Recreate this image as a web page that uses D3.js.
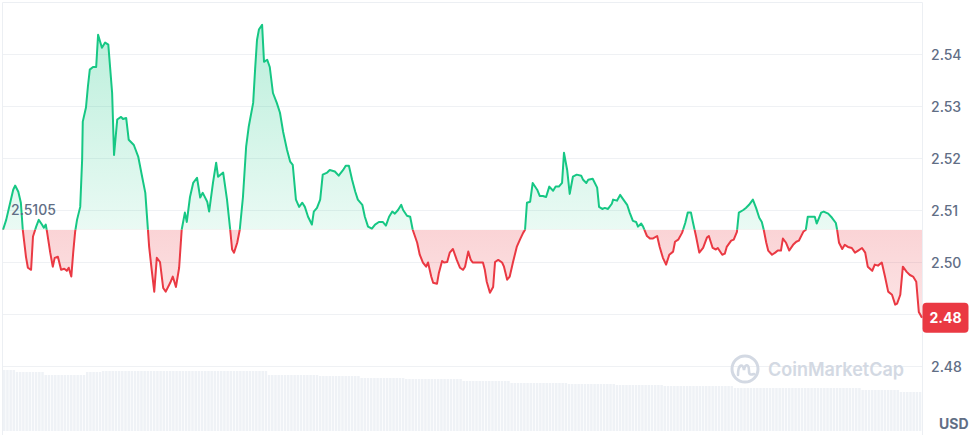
<!DOCTYPE html>
<html><head><meta charset="utf-8">
<script src="https://cdn.jsdelivr.net/npm/d3@7"></script>
<style>body{margin:0;background:#fff;} svg{display:block;font-family:Inter,"Noto Sans",sans-serif;}</style>
</head><body><svg id="c" width="975" height="435"></svg>
<script>
// ---- data ----
const minutes = [0,5,16,19,24,28,31,36,39,44,47,52,56,61,64,67,69,74,78,81,86,91,96,100,103,107,110,113,116,121,124,125,130,133,136,141,146,149,155,160,165,171,174,179,185,188,193,197,205,212,218,223,226,229,233,237,241,246,251,255,262,266,271,276,280,285,288,293,298,304,309,313,320,323,329,334,337,345,351,356,359,362,367,371,376,381,385,392,395,398,401,406,409,414,418,423,429,434,439,445,450,454,459,464,469,473,478,484,487,492,497,501,508,512,520,526,533,537,542,547,552,556,563,567,572,578,583,589,595,600,605,610,614,619,624,627,633,638,642,649,653,658,663,666,671,674,680,683,688,691,696,700,705,711,716,721,724,729,733,736,744,752,755,758,763,768,771,776,782,785,790,794,799,805,810,815,818,821,826,830,837,841,846,851,856,862,866,871,876,879,884,888,893,899,906,909,914,917,924,931,934,939,943,948,954,956,962,967,971,978,982,987,992,995,1000,1003,1009,1014,1018,1025,1029,1034,1039,1044,1050,1053,1058,1064,1069,1073,1078,1081,1086,1091,1097,1103,1106,1112,1117,1120,1127,1131,1134,1141,1145,1150,1153,1160,1164,1169,1175,1180,1185,1189,1192,1196,1199,1205,1210,1214,1219,1222,1227,1232,1238,1243,1247,1254,1258,1261,1268,1272,1275,1282,1286,1293,1299,1305,1307,1310,1315,1319,1324,1330,1335,1340,1346,1351,1355,1362,1366,1371,1377,1382,1387,1393,1398,1401,1406,1410,1416,1421,1426,1431,1435,1440];
const prices = [2.5105,2.5124,2.5182,2.5190,2.5178,2.5157,2.5105,2.5053,2.5032,2.5028,2.5092,2.5111,2.5124,2.5115,2.5109,2.5115,2.5101,2.5061,2.5034,2.5051,2.5053,2.5028,2.5030,2.5026,2.5032,2.5015,2.5061,2.5101,2.5124,2.5149,2.5240,2.5313,2.5340,2.5380,2.5413,2.5418,2.5418,2.5480,2.5455,2.5465,2.5461,2.5368,2.5249,2.5317,2.5322,2.5318,2.5320,2.5278,2.5268,2.5245,2.5207,2.5176,2.5124,2.5072,2.5028,2.4986,2.5051,2.5043,2.4993,2.4986,2.5003,2.5015,2.4995,2.5032,2.5105,2.5138,2.5120,2.5168,2.5195,2.5205,2.5167,2.5176,2.5159,2.5140,2.5195,2.5234,2.5207,2.5215,2.5163,2.5105,2.5067,2.5061,2.5080,2.5105,2.5168,2.5265,2.5303,2.5349,2.5413,2.5470,2.5490,2.5499,2.5428,2.5432,2.5418,2.5368,2.5349,2.5330,2.5293,2.5259,2.5236,2.5230,2.5163,2.5149,2.5157,2.5149,2.5130,2.5115,2.5140,2.5147,2.5163,2.5211,2.5215,2.5220,2.5217,2.5209,2.5220,2.5228,2.5228,2.5201,2.5178,2.5163,2.5153,2.5130,2.5111,2.5107,2.5115,2.5120,2.5120,2.5113,2.5130,2.5140,2.5136,2.5143,2.5153,2.5143,2.5132,2.5130,2.5105,2.5080,2.5057,2.5042,2.5034,2.5042,2.5015,2.5003,2.5001,2.5022,2.5045,2.5042,2.5043,2.5061,2.5068,2.5047,2.5032,2.5028,2.5034,2.5063,2.5047,2.5042,2.5042,2.5042,2.5028,2.5005,2.4984,2.4995,2.5043,2.5047,2.5042,2.5034,2.5009,2.5015,2.5042,2.5072,2.5086,2.5099,2.5105,2.5157,2.5159,2.5195,2.5182,2.5170,2.5170,2.5168,2.5188,2.5180,2.5188,2.5188,2.5195,2.5253,2.5220,2.5174,2.5207,2.5211,2.5209,2.5201,2.5195,2.5201,2.5203,2.5186,2.5149,2.5145,2.5147,2.5145,2.5155,2.5163,2.5161,2.5172,2.5165,2.5153,2.5138,2.5122,2.5120,2.5111,2.5117,2.5111,2.5093,2.5088,2.5088,2.5093,2.5072,2.5051,2.5038,2.5057,2.5063,2.5082,2.5086,2.5099,2.5118,2.5138,2.5138,2.5120,2.5092,2.5061,2.5070,2.5090,2.5093,2.5070,2.5067,2.5070,2.5057,2.5059,2.5072,2.5084,2.5086,2.5101,2.5138,2.5143,2.5147,2.5153,2.5163,2.5147,2.5128,2.5120,2.5105,2.5080,2.5065,2.5057,2.5061,2.5065,2.5065,2.5088,2.5080,2.5065,2.5076,2.5082,2.5084,2.5101,2.5105,2.5130,2.5130,2.5130,2.5117,2.5138,2.5140,2.5136,2.5128,2.5118,2.5105,2.5080,2.5068,2.5076,2.5072,2.5070,2.5061,2.5065,2.5070,2.5061,2.5034,2.5026,2.5038,2.5036,2.5042,2.5015,2.4986,2.4980,2.4961,2.4963,2.4980,2.5034,2.5024,2.5018,2.5015,2.5005,2.4947,2.4936];
// volume per 5-minute bar (millions)
const volumes = [
61,61,61,61,59,59,59,59,59,59,59,59,59,56,56,56,56,56,56,56,56,56,56,56,
56,56,59,59,59,59,59,60,60,60,60,60,60,60,60,60,60,60,60,60,60,60,60,60,
60,60,60,60,60,60,60,60,60,60,60,60,60,60,60,60,60,60,60,60,60,60,60,60,
60,60,60,60,60,60,60,60,60,60,60,56,56,56,56,56,56,56,56,56,56,56,56,56,
56,56,56,55,55,55,55,55,55,55,55,55,55,55,55,55,53,53,53,53,53,53,53,53,
53,53,53,53,53,53,52,52,52,52,52,52,52,52,52,52,52,52,52,52,52,52,52,52,
50,50,50,50,50,50,50,50,50,50,50,50,50,50,50,48,48,48,48,48,48,48,48,48,
48,48,48,48,48,48,48,48,48,47,47,47,47,47,47,47,47,47,47,47,47,47,47,47,
46,46,46,46,46,46,46,46,46,46,46,46,46,46,46,45,45,45,45,45,45,45,45,45,
45,45,45,45,45,45,45,45,45,45,45,45,45,43,43,43,43,43,43,43,43,43,43,43,
43,43,43,43,43,43,43,43,43,43,43,43,43,43,43,43,43,43,43,43,43,43,43,43,
43,43,43,43,43,41,41,41,41,41,41,41,41,41,41,41,41,39,39,39,39,39,39,39];
const tickValues = [2.5443,2.5343,2.5243,2.5143,2.5043,2.4943,2.4843];
const tickLabels = ["2.54","2.53","2.52","2.51","2.50","2.49","2.48"];
const openPrice = 2.5105;
const openLabel = "2.5105";
const lastLabel = "2.48";
const currency = "USD";
const brand = "CoinMarketCap";

// ---- drawing ----
const W = 975, H = 435;
const svg = d3.select("#c");
const x = d3.scaleLinear().domain([0, 1440]).range([3, 922]);
const y = d3.scaleLinear().domain([2.4843, 2.5443]).range([366, 54]);
const yv = d3.scaleLinear().domain([0, 80]).range([431, 351]);
const data = d3.zip(minutes, prices).map(([m, p]) => ({m, p}));
const GREEN = "#16c784", RED = "#ea3943", TXT = "#616e85";

const defs = svg.append("defs");
const base = y(openPrice);
const gg = defs.append("linearGradient").attr("id","gG").attr("gradientUnits","userSpaceOnUse")
  .attr("x1",0).attr("x2",0).attr("y1",20).attr("y2",base);
gg.append("stop").attr("offset",0).attr("stop-color",GREEN).attr("stop-opacity",0.3);
gg.append("stop").attr("offset",1).attr("stop-color",GREEN).attr("stop-opacity",0.09);
const gr = defs.append("linearGradient").attr("id","gR").attr("gradientUnits","userSpaceOnUse")
  .attr("x1",0).attr("x2",0).attr("y1",base).attr("y2",330);
gr.append("stop").attr("offset",0).attr("stop-color",RED).attr("stop-opacity",0.22);
gr.append("stop").attr("offset",1).attr("stop-color",RED).attr("stop-opacity",0.12);
defs.append("clipPath").attr("id","cA").append("rect").attr("x",0).attr("y",0).attr("width",W).attr("height",base);
defs.append("clipPath").attr("id","cB").append("rect").attr("x",0).attr("y",base).attr("width",W).attr("height",H-base);

// volume bars
const step = x(5) - x(0);
svg.append("g").selectAll("rect").data(volumes).join("rect")
  .attr("x", (d,i) => x(i*5))
  .attr("width", step - 0.7)
  .attr("y", d => yv(d))
  .attr("height", d => yv(0) - yv(d))
  .attr("fill", "#eff2f6");

// frame
svg.append("path").attr("d","M2.5,435V2.5H922.5V435").attr("fill","none").attr("stroke","#eceff3").attr("stroke-width",1);

// gridlines via axis
const grid = svg.append("g").attr("transform","translate(3,0)")
  .call(d3.axisRight(y).tickValues(tickValues).tickSize(919).tickFormat(""));
grid.select(".domain").remove();
grid.selectAll("line").attr("stroke","#eff1f4");

// areas
const area = d3.area().x(d => x(d.m)).y0(base).y1(d => y(d.p));
svg.append("path").datum(data).attr("d", area).attr("fill","url(#gG)").attr("clip-path","url(#cA)");
svg.append("path").datum(data).attr("d", area).attr("fill","url(#gR)").attr("clip-path","url(#cB)");

// lines
const line = d3.line().x(d => x(d.m)).y(d => y(d.p));
svg.append("path").datum(data).attr("d", line).attr("fill","none").attr("stroke",GREEN)
  .attr("stroke-width",2).attr("stroke-linejoin","round").attr("clip-path","url(#cA)");
svg.append("path").datum(data).attr("d", line).attr("fill","none").attr("stroke",RED)
  .attr("stroke-width",2).attr("stroke-linejoin","round").attr("clip-path","url(#cB)");

// last price position (the label box hides any axis label beneath it)
const last = data[data.length-1];
const ly = y(last.p);

// right axis labels
const ax = svg.append("g").attr("transform","translate(922,0)")
  .call(d3.axisRight(y).tickValues(tickValues).tickSize(0).tickPadding(9)
    .tickFormat((d,i) => tickLabels[i]));
ax.select(".domain").remove();
ax.selectAll(".tick").filter(d => Math.abs(y(d) - ly) < 20).remove();
ax.selectAll("text").attr("fill",TXT).attr("font-size",14).attr("font-weight",500)
  .attr("font-family","Inter, sans-serif").attr("dy","0.36em");

// open label
svg.append("text").attr("x",11).attr("y",y(openPrice)-15).text(openLabel)
  .attr("fill",TXT).attr("font-size",14).attr("font-weight",500);

// last price label
svg.append("rect").attr("x",922.5).attr("y",ly-15).attr("width",46).attr("height",30).attr("rx",4).attr("fill",RED);
svg.append("text").attr("x",945.5).attr("y",ly).attr("dy","0.36em").attr("text-anchor","middle")
  .attr("fill","#fff").attr("font-size",14).attr("font-weight",700).text(lastLabel);

// currency
svg.append("text").attr("x",939).attr("y",429).text(currency)
  .attr("fill",TXT).attr("font-size",14).attr("font-weight",700);

// watermark
const wm = svg.append("g").attr("transform","translate(745,369)");
wm.append("circle").attr("r",13).attr("fill","none").attr("stroke","#d3d9e3").attr("stroke-width",3);
wm.append("path").attr("d","M-7,6 C-7,-5 -2,-6 -1,1 C0,-6 4,-5 4,2 C4,6 6,6 9,5")
  .attr("fill","none").attr("stroke","#d3d9e3").attr("stroke-width",2.6).attr("stroke-linecap","round");
svg.append("text").attr("x",768).attr("y",376).text(brand)
  .attr("fill","#d3d9e3").attr("font-size",18.5).attr("font-weight",600)
  .attr("textLength",136).attr("lengthAdjust","spacingAndGlyphs");
</script></body></html>
